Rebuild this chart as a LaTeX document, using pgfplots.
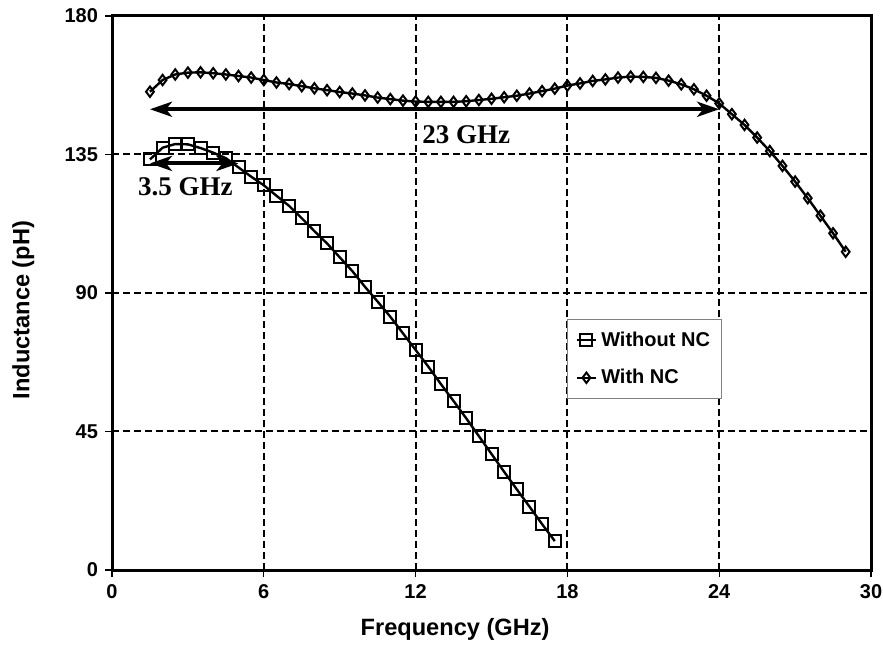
\documentclass[border=0pt]{standalone}
\usepackage{fontspec}
\setmainfont{Liberation Serif}
\setsansfont{Liberation Sans}
\usepackage{pgfplots}
\pgfplotsset{compat=1.18}
\usetikzlibrary{arrows.meta}

\begin{document}
\begin{tikzpicture}
\begin{axis}[
    name=ax,
    width=379.5pt, height=277pt, scale only axis,
    xmin=0, xmax=30, ymin=0, ymax=180,
    xtick={0,6,...,30}, ytick={0,45,...,180},
    tick align=outside, major tick length=3.5pt,
    tick style={black, line width=0.6pt},
    xtick pos=bottom, ytick pos=left,
    grid=major,
    grid style={black, line width=1pt, dash pattern=on 3.5pt off 2pt},
    axis line style={line width=1.5pt},
    /pgf/number format/assume math mode=true,
    tick label style={font=\sffamily\bfseries\fontsize{10}{11}\selectfont},
    xlabel={Frequency (GHz)}, ylabel={Inductance (pH)},
    label style={font=\sffamily\bfseries\fontsize{11.8}{13}\selectfont},
    xlabel style={at={(axis description cs:0.452,-0.108)}, anchor=center},
    ylabel style={at={(axis description cs:-0.117,0.469)}, anchor=center},
    legend style={at={(axis description cs:0.5995,0.453)}, anchor=north west,
        draw=gray, line width=0.5pt, inner xsep=4pt, inner ysep=4pt, row sep=6pt,
        font=\sffamily\bfseries\fontsize{10}{11}\selectfont},
    legend cell align=left,
    legend image code/.code={\draw[mark repeat=2,mark phase=2]
        plot coordinates {(0cm,0cm) (0.17cm,0cm) (0.34cm,0cm)};},
]
\addplot[black, line width=1.2pt, mark=square, mark size=3pt,
    mark options={solid, line width=1pt, fill=none}] coordinates {
(1.5,133.4) (2,137.2) (2.5,138.4) (3,138.3) (3.5,137.1) (4,135.6) (4.5,133.8)
(5,130.8) (5.5,127.8) (6,125.0) (6.5,121.6) (7,118.3) (7.5,114.3) (8,110.1)
(8.5,106.1) (9,101.6) (9.5,97.1) (10,92.0) (10.5,87.2) (11,82.3) (11.5,76.9)
(12,71.5) (12.5,66.1) (13,60.4) (13.5,54.9) (14,49.3) (14.5,43.5) (15,37.7)
(15.5,31.9) (16,26.2) (16.5,20.6) (17,14.9) (17.5,9.4)
};
\addlegendentry{Without NC}
\addplot[black, line width=1.2pt, mark=diamond, mark size=2.6pt,
    mark options={solid, line width=1pt, fill=none}] coordinates {
(1.5,155.4) (2,159.2) (2.5,161.0) (3,161.6) (3.5,161.7) (4,161.4) (4.5,161.0)
(5,160.5) (5.5,160.0) (6,159.2) (6.5,158.4) (7,157.9) (7.5,157.2) (8,156.5)
(8.5,155.9) (9,155.3) (9.5,154.8) (10,154.2) (10.5,153.5) (11,153.0) (11.5,152.5)
(12,152.2) (12.5,152.1) (13,152.1) (13.5,152.1) (14,152.3) (14.5,152.7) (15,153.1)
(15.5,153.6) (16,154.1) (16.5,154.8) (17,155.6) (17.5,156.4) (18,157.4) (18.5,158.1)
(19,158.9) (19.5,159.4) (20,160.0) (20.5,160.3) (21,160.2) (21.5,159.9) (22,159.0)
(22.5,157.8) (23,156.2) (23.5,154.1) (24,151.6) (24.5,148.1) (25,144.6) (25.5,140.5)
(26,136.1) (26.5,131.3) (27,126.2) (27.5,120.8) (28,115.1) (28.5,109.4) (29,103.4)
};
\addlegendentry{With NC}
\draw[line width=2pt, {Stealth[length=11pt,width=7.5pt,inset=3pt]}-{Stealth[length=11pt,width=7.5pt,inset=3pt]}]
    (axis cs:1.5,149.7) -- (axis cs:24,149.7);
\draw[line width=2pt, {Stealth[length=11pt,width=7.5pt,inset=3pt]}-{Stealth[length=11pt,width=7.5pt,inset=3pt]}]
    (axis cs:1.5,132.1) -- (axis cs:5,132.1);
\node[font=\rmfamily\bfseries\fontsize{13.5}{15}\selectfont] at (axis cs:14,141.3) {23 GHz};
\node[font=\rmfamily\bfseries\fontsize{13.5}{15}\selectfont] at (axis cs:2.9,124.5) {3.5 GHz};
\end{axis}
\pgfresetboundingbox
\path ([shift={(-56pt,-38.5pt)}]ax.south west) rectangle ([shift={(385.5pt,285pt)}]ax.south west);
\end{tikzpicture}
\end{document}
